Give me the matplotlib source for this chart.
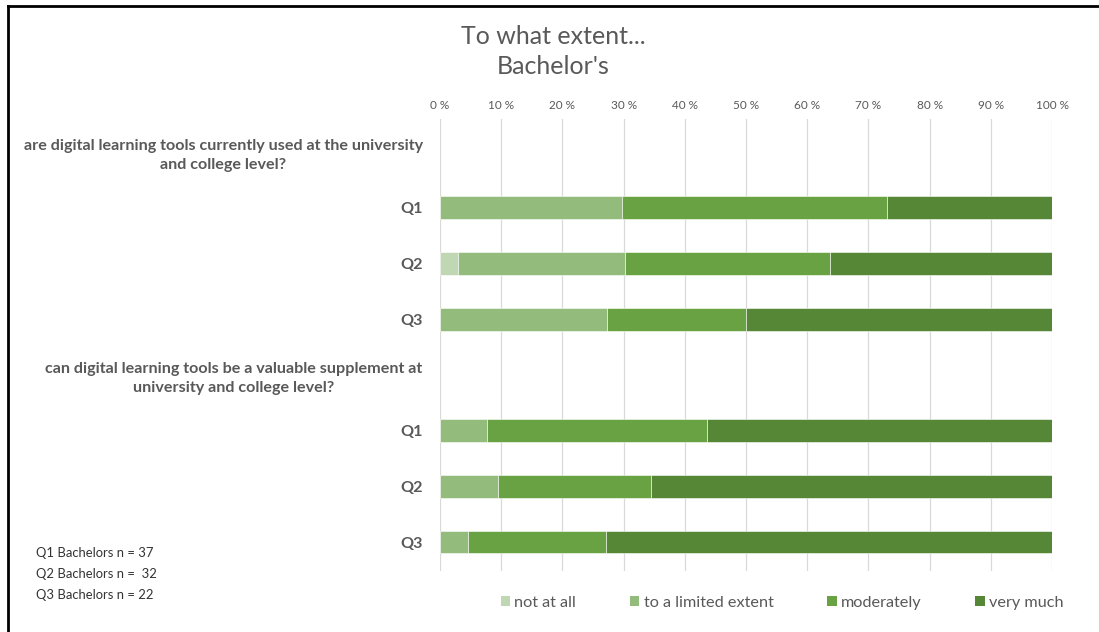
import matplotlib
matplotlib.use("Agg")
import matplotlib.pyplot as plt
from matplotlib.lines import Line2D
from matplotlib.patches import Patch
import numpy as np

plt.rcParams['font.family'] = ['Lato', 'DejaVu Sans']

# ---- data ----
header_1 = "are digital learning tools currently used at the university\nand college level?"
header_2 = "can digital learning tools be a valuable supplement at\nuniversity and college level?"
row_labels = [header_1, "Q1", "Q2", "Q3", header_2, "Q1", "Q2", "Q3"]
bar_rows = [1, 2, 3, 5, 6, 7]

series_names = ["not at all", "to a limited extent", "moderately", "very much"]
not_at_all = [0.0, 3.0, 0.0, 0.0, 0.0, 0.0]
limited = [29.7, 27.2, 27.3, 7.6, 9.4, 4.5]
moderately = [43.3, 33.5, 22.7, 36.0, 25.0, 22.7]
very_much = [27.0, 36.3, 50.0, 56.4, 65.6, 72.8]

x_ticks = [0, 10, 20, 30, 40, 50, 60, 70, 80, 90, 100]
x_tick_labels = ["0 %", "10 %", "20 %", "30 %", "40 %", "50 %", "60 %", "70 %", "80 %", "90 %", "100 %"]

notes = ["Q1 Bachelors n = 37", "Q2 Bachelors n =  32", "Q3 Bachelors n = 22"]
title_lines = ["To what extent...", "Bachelor's"]

colors = ["#BFD8B3", "#93BB7C", "#69A243", "#558736"]
text_gray = "#595959"

# ---- figure ----
W, H = 1099, 632
fig = plt.figure(figsize=(W / 100, H / 100), dpi=100)
ax_left, ax_right, ax_top, ax_bottom = 440, 1052, 119, 571
ax = fig.add_axes([ax_left / W, 1 - ax_bottom / H, (ax_right - ax_left) / W, (ax_bottom - ax_top) / H])

series = [not_at_all, limited, moderately, very_much]
left = np.zeros(len(bar_rows))
for name, vals, c in zip(series_names, series, colors):
    vals = np.array(vals)
    ax.barh(bar_rows, vals, left=left, height=0.41, color=c, edgecolor="white",
            linewidth=0.4, label=name, zorder=3)
    left += vals

ax.set_xlim(0, 100)
ax.set_ylim(7.52, -0.59)
ax.xaxis.tick_top()
ax.set_xticks(x_ticks, x_tick_labels)
ax.tick_params(axis="x", length=0, pad=6, labelsize=8.5, labelcolor=text_gray)
ax.set_yticks(range(len(row_labels)), row_labels)
ax.tick_params(axis="y", length=0, pad=12.5, labelsize=11.6, labelcolor=text_gray)
for lab in ax.get_yticklabels():
    lab.set_fontweight("bold")
    lab.set_multialignment("center")
    lab.set_linespacing(1.45)
ax.grid(axis="x", color="#D9D9D9", linewidth=0.9, zorder=0)
for s in ax.spines.values():
    s.set_visible(False)

# title
fig.text(553 / W, 1 - 37 / H, title_lines[0], ha="center", va="center", fontsize=18,
         color=text_gray)
fig.text(553 / W, 1 - 67 / H, title_lines[1], ha="center", va="center", fontsize=18,
         color=text_gray)

# notes
for i, t in enumerate(notes):
    fig.text(36 / W, 1 - (553 + 21 * i) / H, t, ha="left", va="center", fontsize=9.4, color="#333333")

# legend
handles = [Patch(facecolor=c, edgecolor="none") for c in colors]
leg = fig.legend(handles, series_names, loc="center", bbox_to_anchor=(782 / W, 1 - 603 / H), ncol=4,
                 frameon=False, fontsize=11.7, handlelength=0.6, handleheight=0.6,
                 handletextpad=0.25, columnspacing=3.3, labelcolor=text_gray)

# border
fig.add_artist(Line2D([8 / W, 8 / W], [0, 1 - 6 / H], transform=fig.transFigure, color="black", linewidth=2))
fig.add_artist(Line2D([8 / W, 1], [1 - 6 / H, 1 - 6 / H], transform=fig.transFigure, color="black", linewidth=2))

fig.savefig("out.png", dpi=100)
